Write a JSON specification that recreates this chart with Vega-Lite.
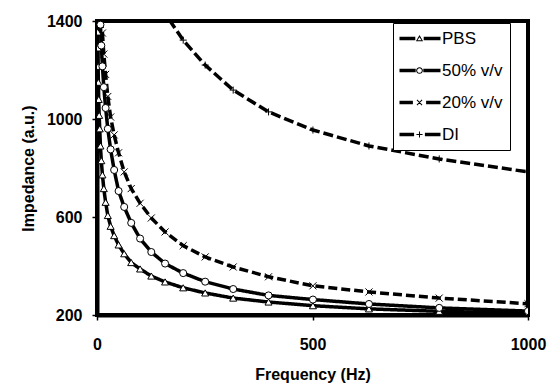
{
  "$schema": "https://vega.github.io/schema/vega-lite/v6.json",
  "width": 431,
  "height": 294,
  "autosize": {"type": "none"},
  "padding": {"left": 97, "top": 21, "right": 19, "bottom": 69},
  "background": "white",
  "config": {
    "view": {"stroke": "black", "strokeWidth": 4},
    "font": "Liberation Sans",
    "axis": {
      "grid": false,
      "domain": true,
      "domainColor": "black",
      "domainWidth": 4,
      "tickColor": "black",
      "tickWidth": 1.5,
      "tickSize": 5,
      "labelFont": "Liberation Sans",
      "labelFontSize": 16,
      "labelFontWeight": "bold",
      "labelColor": "black",
      "titleFont": "Liberation Sans",
      "titleFontSize": 16,
      "titleFontWeight": "bold",
      "titleColor": "black"
    }
  },
  "data": {
    "values": [
      {"series": "PBS", "f": 1, "z": 1480},
      {"series": "PBS", "f": 1.26, "z": 1420},
      {"series": "PBS", "f": 1.58, "z": 1355},
      {"series": "PBS", "f": 2, "z": 1290},
      {"series": "PBS", "f": 2.51, "z": 1215},
      {"series": "PBS", "f": 3.16, "z": 1150},
      {"series": "PBS", "f": 3.98, "z": 1080},
      {"series": "PBS", "f": 5.01, "z": 1015},
      {"series": "PBS", "f": 6.31, "z": 960},
      {"series": "PBS", "f": 7.94, "z": 890},
      {"series": "PBS", "f": 10, "z": 830},
      {"series": "PBS", "f": 12.6, "z": 772},
      {"series": "PBS", "f": 15.8, "z": 716},
      {"series": "PBS", "f": 20, "z": 660},
      {"series": "PBS", "f": 25.1, "z": 606},
      {"series": "PBS", "f": 31.6, "z": 562},
      {"series": "PBS", "f": 39.8, "z": 524},
      {"series": "PBS", "f": 50.1, "z": 486},
      {"series": "PBS", "f": 63.1, "z": 450},
      {"series": "PBS", "f": 79.4, "z": 414},
      {"series": "PBS", "f": 100, "z": 388},
      {"series": "PBS", "f": 126, "z": 359},
      {"series": "PBS", "f": 158, "z": 335},
      {"series": "PBS", "f": 200, "z": 311},
      {"series": "PBS", "f": 251, "z": 290},
      {"series": "PBS", "f": 316, "z": 269},
      {"series": "PBS", "f": 398, "z": 253},
      {"series": "PBS", "f": 501, "z": 238},
      {"series": "PBS", "f": 631, "z": 225},
      {"series": "PBS", "f": 794, "z": 215},
      {"series": "PBS", "f": 1000, "z": 207},
      {"series": "50% v/v", "f": 5.01, "z": 1560},
      {"series": "50% v/v", "f": 6.31, "z": 1470},
      {"series": "50% v/v", "f": 7.94, "z": 1385},
      {"series": "50% v/v", "f": 10, "z": 1300},
      {"series": "50% v/v", "f": 12.6, "z": 1215},
      {"series": "50% v/v", "f": 15.8, "z": 1130},
      {"series": "50% v/v", "f": 20, "z": 1045},
      {"series": "50% v/v", "f": 25.1, "z": 960},
      {"series": "50% v/v", "f": 31.6, "z": 876},
      {"series": "50% v/v", "f": 39.8, "z": 792},
      {"series": "50% v/v", "f": 50.1, "z": 706},
      {"series": "50% v/v", "f": 63.1, "z": 641},
      {"series": "50% v/v", "f": 79.4, "z": 576},
      {"series": "50% v/v", "f": 100, "z": 512},
      {"series": "50% v/v", "f": 126, "z": 457},
      {"series": "50% v/v", "f": 158, "z": 410},
      {"series": "50% v/v", "f": 200, "z": 371},
      {"series": "50% v/v", "f": 251, "z": 336},
      {"series": "50% v/v", "f": 316, "z": 306},
      {"series": "50% v/v", "f": 398, "z": 280},
      {"series": "50% v/v", "f": 501, "z": 263},
      {"series": "50% v/v", "f": 631, "z": 245},
      {"series": "50% v/v", "f": 794, "z": 229},
      {"series": "50% v/v", "f": 1000, "z": 216},
      {"series": "20% v/v", "f": 6.31, "z": 1620},
      {"series": "20% v/v", "f": 7.94, "z": 1530},
      {"series": "20% v/v", "f": 10, "z": 1440},
      {"series": "20% v/v", "f": 12.6, "z": 1351},
      {"series": "20% v/v", "f": 15.8, "z": 1265},
      {"series": "20% v/v", "f": 20, "z": 1182},
      {"series": "20% v/v", "f": 25.1, "z": 1092},
      {"series": "20% v/v", "f": 31.6, "z": 1008},
      {"series": "20% v/v", "f": 39.8, "z": 935},
      {"series": "20% v/v", "f": 50.1, "z": 862},
      {"series": "20% v/v", "f": 63.1, "z": 784},
      {"series": "20% v/v", "f": 79.4, "z": 716},
      {"series": "20% v/v", "f": 100, "z": 656},
      {"series": "20% v/v", "f": 126, "z": 596},
      {"series": "20% v/v", "f": 158, "z": 539},
      {"series": "20% v/v", "f": 200, "z": 483},
      {"series": "20% v/v", "f": 251, "z": 437},
      {"series": "20% v/v", "f": 316, "z": 396},
      {"series": "20% v/v", "f": 398, "z": 356},
      {"series": "20% v/v", "f": 501, "z": 319},
      {"series": "20% v/v", "f": 631, "z": 294},
      {"series": "20% v/v", "f": 794, "z": 269},
      {"series": "20% v/v", "f": 1000, "z": 246},
      {"series": "DI", "f": 126, "z": 1560},
      {"series": "DI", "f": 158, "z": 1430},
      {"series": "DI", "f": 200, "z": 1322},
      {"series": "DI", "f": 251, "z": 1220},
      {"series": "DI", "f": 316, "z": 1118},
      {"series": "DI", "f": 398, "z": 1029},
      {"series": "DI", "f": 501, "z": 955},
      {"series": "DI", "f": 631, "z": 890},
      {"series": "DI", "f": 794, "z": 837},
      {"series": "DI", "f": 1000, "z": 784}
    ]
  },
  "encoding": {
    "x": {
      "field": "f", "type": "quantitative",
      "scale": {"domain": [0, 1000], "nice": false},
      "axis": {"values": [0, 500, 1000], "format": "d", "title": "Frequency (Hz)", "labelPadding": 16, "titlePadding": 14, "labelFlush": false}
    },
    "y": {
      "field": "z", "type": "quantitative",
      "scale": {"domain": [200, 1400], "nice": false, "zero": false},
      "axis": {"values": [200, 600, 1000, 1400], "format": "d", "title": "Impedance (a.u.)", "labelPadding": 10, "titlePadding": 10}
    }
  },
  "resolve": {"scale": {"shape": "independent"}, "legend": {"shape": "independent"}},
  "layer": [
    {
      "mark": {"type": "line", "clip": true, "color": "black", "strokeWidth": 3.5},
      "encoding": {
        "detail": {"field": "series"},
        "strokeDash": {
          "field": "series", "type": "nominal",
          "scale": {"domain": ["PBS", "50% v/v", "20% v/v", "DI"], "range": [[1, 0], [1, 0], [9, 4], [10, 4]]},
          "legend": null
        }
      }
    },
    {
      "mark": {"type": "point", "clip": true, "filled": false, "fill": "white", "fillOpacity": 1, "stroke": "black", "strokeWidth": 1, "size": 50, "opacity": 1},
      "encoding": {
        "shape": {
          "field": "series", "type": "nominal",
          "scale": {"domain": ["PBS", "50% v/v", "20% v/v", "DI"], "range": ["triangle-up", "circle", "M-1,-1L1,1M-1,1L1,-1", "M-1,0H1M0,-1V1"]},
          "legend": null
        }
      }
    },
    {
      "transform": [{"filter": "datum.f < 0"}],
      "mark": {"type": "point", "filled": true, "color": "black", "strokeWidth": 0, "opacity": 1},
      "encoding": {
        "shape": {
          "field": "series", "type": "nominal",
          "scale": {
            "domain": ["PBS", "50% v/v", "20% v/v", "DI"],
            "range": [
              "M-1.125,-0.22H0.85V0.22H-1.125ZM1.9,-0.22H4V0.22H1.9ZM1.375,-0.45L1.825,0.35L0.925,0.35ZM1.375,-0.15L1.12,0.225L1.63,0.225Z",
              "M-1.125,-0.22H0.9V0.22H-1.125ZM1.85,-0.22H4V0.22H1.85ZM1.795,0A0.42,0.42,0,1,1,0.955,0A0.42,0.42,0,1,1,1.795,0ZM1.665,0A0.29,0.29,0,1,0,1.085,0A0.29,0.29,0,1,0,1.665,0Z",
              "M-1.125,-0.22H0.55V0.22H-1.125ZM2.2,-0.22H4V0.22H2.2ZM1.1,-0.365L1.74,0.275L1.65,0.365L1.01,-0.275ZM1.01,0.275L1.65,-0.365L1.74,-0.275L1.1,0.365Z",
              "M-1.125,-0.22H0.7V0.22H-1.125ZM2.05,-0.22H4V0.22H2.05ZM0.995,-0.0625H1.755V0.0625H0.995ZM1.3125,-0.38H1.4375V0.38H1.3125Z"
            ]
          },
          "legend": {
            "title": null,
            "orient": "none", "legendX": 296, "legendY": 2,
            "symbolSize": 256, "symbolStrokeWidth": 0, "symbolFillColor": "black", "symbolOpacity": 1,
            "labelFont": "Liberation Sans", "labelFontSize": 17, "labelColor": "black", "labelOffset": 25,
            "padding": 7, "rowPadding": 14, "strokeColor": "black", "fillColor": "white"
          }
        }
      }
    }
  ]
}
